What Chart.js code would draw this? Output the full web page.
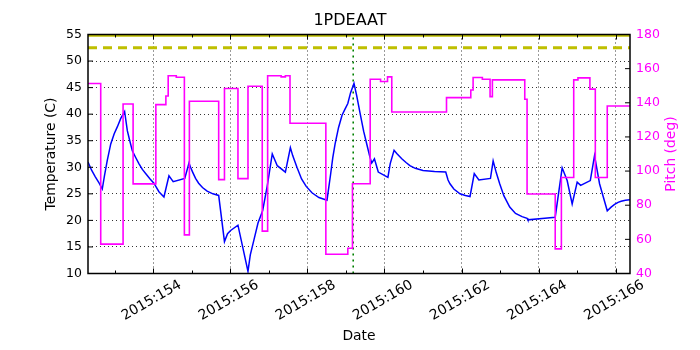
<!DOCTYPE html>
<html>
<head>
<meta charset="utf-8">
<title>1PDEAAT</title>
<script src="https://cdn.jsdelivr.net/npm/chart.js@4.4.1/dist/chart.umd.min.js"></script>
<style>
    html, body { margin: 0; padding: 0; background: #fff; }
    #wrap { width: 700px; height: 350px; }
</style>
</head>
<body>
<div id="wrap"><canvas id="chart" width="700" height="350"></canvas></div>
<script>
// 数据 (day of year 2015)
const chartTitle = '1PDEAAT';

const tempDays = [
    152.31, 152.40, 152.50, 152.60, 152.68, 152.74, 152.81, 152.90, 152.99, 153.07,
    153.16, 153.26, 153.33, 153.40, 153.46, 153.55, 153.63, 153.72, 153.81, 153.92,
    154.02, 154.15, 154.28, 154.41, 154.52, 154.82, 154.93, 154.97, 155.03, 155.10,
    155.18, 155.28, 155.40, 155.55, 155.70, 155.85, 155.93, 156.01, 156.20, 156.46,
    156.52, 156.61, 156.72, 156.84, 156.96, 157.09, 157.22, 157.43, 157.56, 157.62,
    157.73, 157.85, 157.97, 158.12, 158.30, 158.51, 158.60, 158.66, 158.72, 158.81,
    158.90, 158.98, 159.05, 159.12, 159.21, 159.28, 159.37, 159.46, 159.55, 159.62,
    159.67, 159.74, 159.84, 160.09, 160.15, 160.25, 160.32, 160.45, 160.56, 160.66,
    160.80, 161.00, 161.30, 161.59, 161.65, 161.70, 161.80, 161.96, 162.10, 162.22,
    162.33, 162.45, 162.75, 162.82, 162.90, 162.99, 163.10, 163.25, 163.40, 163.57,
    163.70, 163.72, 164.16, 164.43, 164.61, 164.74, 164.87, 165.00, 165.09, 165.34,
    165.45, 165.58, 165.78, 165.88, 165.97, 166.06, 166.14, 166.25, 166.37
];
const tempValues = [
    31.0, 29.5, 28.2, 27.0, 25.9, 28.5, 31.3, 34.4, 36.3, 37.6,
    39.2, 40.5, 36.9, 34.8, 33.1, 31.8, 30.7, 29.6, 28.8, 27.8,
    27.0, 25.4, 24.4, 28.4, 27.3, 27.9, 30.8, 30.0, 29.0, 27.9,
    27.0, 26.2, 25.5, 25.0, 24.7, 16.0, 17.5, 18.1, 19.1, 10.4,
    13.5, 16.2, 19.5, 21.8, 26.5, 32.5, 30.3, 29.1, 33.7, 32.2,
    30.0, 27.8, 26.4, 25.2, 24.3, 23.8, 28.5, 31.8, 34.4, 37.5,
    39.8, 41.0, 42.0, 44.0, 45.8, 43.5, 40.1, 36.8, 34.1, 32.0,
    30.8, 31.6, 29.1, 28.1, 30.7, 33.2, 32.6, 31.6, 30.9, 30.3,
    29.8, 29.4, 29.2, 29.1, 27.6, 26.9, 25.9, 25.0, 24.7, 24.5,
    28.8, 27.6, 27.9, 31.2, 29.0, 26.9, 24.6, 22.5, 21.3, 20.7,
    20.4, 20.1, 20.4, 20.6, 29.9, 27.5, 23.1, 27.2, 26.6, 27.5,
    32.2, 26.9, 21.8, 22.5, 23.0, 23.4, 23.6, 23.8, 23.9
];

// 俯仰角: 每个值从该时刻保持到下一个时刻
const pitchDays = [
    152.31, 152.64, 153.22, 153.48, 154.07, 154.33, 154.39, 154.60, 154.81, 154.94,
    155.70, 155.85, 156.20, 156.46, 156.83, 156.97, 157.32, 157.43, 157.55, 158.48,
    159.05, 159.17, 159.63, 159.90, 160.08, 160.19, 161.61, 162.24, 162.30, 162.54,
    162.74, 162.80, 163.64, 163.70, 164.43, 164.59, 164.91, 165.02, 165.33, 165.47,
    165.78, 166.37
];
const pitchValues = [
    151.3, 57.2, 139.3, 92.5, 138.9, 144.0, 155.8, 155.0, 62.6, 140.9,
    95.0, 148.4, 95.6, 149.7, 64.8, 155.8, 155.2, 155.8, 128.0, 51.3,
    54.8, 92.6, 153.8, 152.5, 155.2, 134.6, 143.0, 147.5, 154.8, 153.8,
    143.6, 153.4, 142.1, 86.6, 54.4, 96.2, 153.4, 154.6, 148.0, 96.2,
    138.1, 138.1
];

const xTickDays = [154, 156, 158, 160, 162, 164, 166];
const xTickLabels = ['2015:154', '2015:156', '2015:158', '2015:160', '2015:162', '2015:164', '2015:166'];
const dayRange = [152.31, 166.37];
const tempRange = [10, 55];
const pitchRange = [40, 180];

const upperLimit = 54.75;     // 顶部黄色实线
const cautionLimit = 52.5;    // 黄色虚线
const markerDay = 159.19;     // 绿色点线

Chart.defaults.font.family = "'DejaVu Sans', sans-serif";
Chart.defaults.color = '#000';

// 边框、向内刻度、x 轴标签、右侧标题
const framePlugin = {
    id: 'frame',
    afterDatasetsDraw(chart) {
        const { ctx, chartArea: a, scales } = chart;
        ctx.save();
        ctx.strokeStyle = '#000';
        ctx.lineWidth = 1;
        ctx.beginPath();
        for (let d = Math.ceil(dayRange[0]); d <= dayRange[1]; d++) {
            const px = Math.round(scales.x.getPixelForValue(d)) + 0.5;
            const len = xTickDays.includes(d) ? 5 : 3;
            ctx.moveTo(px, a.bottom);
            ctx.lineTo(px, a.bottom - len);
            ctx.moveTo(px, a.top);
            ctx.lineTo(px, a.top + len);
        }
        scales.y.ticks.forEach(t => {
            const py = scales.y.getPixelForValue(t.value);
            ctx.moveTo(a.left, py);
            ctx.lineTo(a.left + 5, py);
        });
        scales.y1.ticks.forEach(t => {
            const py = scales.y1.getPixelForValue(t.value);
            ctx.moveTo(a.right, py);
            ctx.lineTo(a.right - 5, py);
        });
        ctx.stroke();
        ctx.lineWidth = 1.5;
        ctx.strokeRect(a.left, a.top, a.right - a.left, a.bottom - a.top);
        ctx.restore();
    },
    afterDraw(chart) {
        const { ctx, chartArea: a, scales } = chart;
        ctx.save();
        ctx.fillStyle = '#000';
        ctx.font = "13.9px 'DejaVu Sans', sans-serif";
        ctx.textAlign = 'center';
        ctx.textBaseline = 'middle';
        xTickDays.forEach((d, i) => {
            const px = scales.x.getPixelForValue(d);
            ctx.save();
            ctx.translate(px - 1.5, 300.5);
            ctx.rotate(-Math.PI / 6);
            ctx.fillText(xTickLabels[i], 0, 0);
            ctx.restore();
        });
        ctx.fillStyle = '#ff00ff';
        ctx.translate(671.5, (a.top + a.bottom) / 2);
        ctx.rotate(-Math.PI / 2);
        ctx.fillText('Pitch (deg)', 0, 0);
        ctx.restore();
    }
};

const gridStyle = { color: '#000', lineWidth: 0.8, drawTicks: false };

new Chart(document.getElementById('chart'), {
    type: 'line',
    data: {
        datasets: [
            {
                label: 'Pitch',
                data: pitchDays.map((d, i) => ({ x: d, y: pitchValues[i] })),
                yAxisID: 'y1',
                borderColor: '#ff00ff',
                borderWidth: 1.6,
                stepped: 'before',
                pointRadius: 0,
                fill: false
            },
            {
                label: 'Temperature',
                data: tempDays.map((d, i) => ({ x: d, y: tempValues[i] })),
                yAxisID: 'y',
                borderColor: '#0000ff',
                borderWidth: 1.5,
                tension: 0,
                pointRadius: 0,
                fill: false
            },
            {
                label: 'marker',
                data: [{ x: markerDay, y: tempRange[0] }, { x: markerDay, y: tempRange[1] }],
                yAxisID: 'y',
                borderColor: '#008000',
                borderWidth: 1.6,
                borderDash: [2, 4],
                pointRadius: 0
            },
            {
                label: 'caution',
                data: [{ x: dayRange[0], y: cautionLimit }, { x: dayRange[1], y: cautionLimit }],
                yAxisID: 'y',
                borderColor: '#bfbf00',
                borderWidth: 3,
                borderDash: [9, 6],
                pointRadius: 0
            },
            {
                label: 'upper',
                data: [{ x: dayRange[0], y: upperLimit }, { x: dayRange[1], y: upperLimit }],
                yAxisID: 'y',
                borderColor: '#bfbf00',
                borderWidth: 2,
                pointRadius: 0
            }
        ]
    },
    options: {
        responsive: false,
        animation: false,
        layout: { padding: 0 },
        plugins: {
            legend: { display: false },
            tooltip: { enabled: false },
            title: {
                display: true,
                text: chartTitle,
                color: '#000',
                font: { size: 16, weight: 'normal', lineHeight: '20px' },
                padding: { top: 11, bottom: 3.5 }
            }
        },
        scales: {
            x: {
                type: 'linear',
                min: dayRange[0],
                max: dayRange[1],
                afterBuildTicks: s => { s.ticks = xTickDays.map(v => ({ value: v })); },
                afterFit: s => { s.height = 76.5; },
                ticks: { display: false },
                grid: gridStyle,
                border: { display: false, dash: [1, 3] },
                title: {
                    display: true,
                    text: 'Date',
                    font: { size: 13.9 },
                    padding: { top: 0, bottom: 5.2 }
                }
            },
            y: {
                type: 'linear',
                position: 'left',
                min: tempRange[0],
                max: tempRange[1],
                afterFit: s => { s.width = 88; },
                ticks: { stepSize: 5, padding: 6, font: { size: 12.5 }, color: '#000' },
                grid: gridStyle,
                border: { display: false, dash: [1, 3] },
                title: {
                    display: true,
                    text: 'Temperature (C)',
                    font: { size: 13.9 },
                    padding: { top: 42.7, bottom: 0 }
                }
            },
            y1: {
                type: 'linear',
                position: 'right',
                min: pitchRange[0],
                max: pitchRange[1],
                afterFit: s => { s.width = 70; },
                ticks: { stepSize: 20, padding: 6, font: { size: 12.5 }, color: '#ff00ff' },
                grid: { drawOnChartArea: false, drawTicks: false },
                border: { display: false }
            }
        }
    },
    plugins: [framePlugin]
});
</script>
</body>
</html>
